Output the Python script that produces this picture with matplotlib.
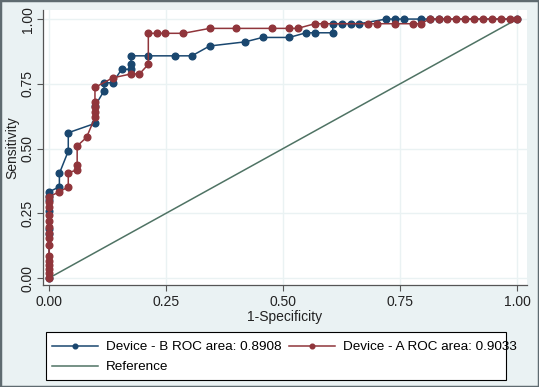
import matplotlib
matplotlib.use("Agg")
import matplotlib.pyplot as plt
from matplotlib.patches import Rectangle

# Device B ROC points (1-specificity, sensitivity)
b_fpr = [0, 0, 0, 0, 0, 0, 0, 0.022, 0.022, 0.041, 0.041, 0.098, 0.098,
         0.1175, 0.1175, 0.136, 0.155, 0.175, 0.175, 0.175, 0.212, 0.269, 0.305,
         0.343, 0.419, 0.456, 0.513, 0.549, 0.568, 0.606, 0.606, 0.625, 0.645,
         0.663, 0.72, 0.739, 0.759, 0.794, 0.813, 0.832, 1.0]
b_tpr = [0, 0.17, 0.19, 0.26, 0.30, 0.315, 0.333, 0.352, 0.404, 0.49, 0.561, 0.597, 0.664,
         0.723, 0.754, 0.754, 0.806, 0.806, 0.826, 0.858, 0.858, 0.858, 0.858,
         0.896, 0.912, 0.929, 0.929, 0.947, 0.947, 0.947, 0.982, 0.982, 0.982,
         0.982, 1.0, 1.0, 1.0, 1.0, 1.0, 1.0, 1.0]

# Device A ROC points
a_fpr = [0, 0, 0, 0, 0, 0, 0, 0, 0, 0, 0, 0, 0, 0, 0,
         0.022, 0.041, 0.041, 0.06, 0.06, 0.06, 0.08, 0.098, 0.098, 0.098, 0.098, 0.098,
         0.136, 0.175, 0.193, 0.212, 0.212, 0.230, 0.248, 0.287, 0.343, 0.40, 0.476,
         0.513, 0.531, 0.568, 0.588, 0.682, 0.70, 0.739, 0.777, 0.794,
         0.813, 0.832, 0.851, 0.870, 0.889, 0.908, 0.927, 0.946, 0.965, 0.984, 1.0]
a_tpr = [0, 0.02, 0.035, 0.05, 0.065, 0.085, 0.127, 0.153, 0.175, 0.198, 0.22, 0.243, 0.275, 0.295, 0.314,
         0.333, 0.352, 0.407, 0.417, 0.436, 0.51, 0.543, 0.62, 0.64, 0.66, 0.68, 0.736,
         0.773, 0.788, 0.788, 0.825, 0.945, 0.945, 0.945, 0.945, 0.964, 0.964, 0.964,
         0.964, 0.964, 0.982, 0.982, 0.982, 0.982, 0.982, 0.982, 0.982,
         1.0, 1.0, 1.0, 1.0, 1.0, 1.0, 1.0, 1.0, 1.0, 1.0, 1.0]

ref_x = [0, 1]
ref_y = [0, 1]

labels = ["Device - B ROC area: 0.8908", "Device - A ROC area: 0.9033", "Reference"]
ticks = [0, 0.25, 0.5, 0.75, 1.0]

plt.rcParams['font.family'] = ['Liberation Sans', 'DejaVu Sans']

bg = "#EAF2F3"
navy = "#1A476F"
maroon = "#90353B"
green = "#4F7364"
W, H = 539, 387

fig = plt.figure(figsize=(W / 100, H / 100), dpi=100, facecolor=bg)
ax = fig.add_axes([43 / W, 1 - 285 / H, 484 / W, 275 / H])
ax.set_facecolor("white")

l_ref, = ax.plot(ref_x, ref_y, color=green, lw=1.1, zorder=2)
l_b, = ax.plot(b_fpr, b_tpr, color=navy, lw=1.1, marker="o", ms=4.8, zorder=3)
l_a, = ax.plot(a_fpr, a_tpr, color=maroon, lw=1.1, marker="o", ms=4.8, zorder=4)

ax.set_xlim(-0.013, 1.021)
ax.set_ylim(-0.027, 1.035)
ax.set_xticks(ticks)
ax.set_yticks(ticks)
ax.set_xticklabels(["%.2f" % t for t in ticks], fontsize=10)
ax.set_yticklabels(["%.2f" % t for t in ticks], fontsize=10, rotation=90, va="center")
ax.grid(True, color=bg, lw=1.0, zorder=0)
ax.set_axisbelow(True)
for s in ["top", "right"]:
    ax.spines[s].set_visible(False)
for s in ["left", "bottom"]:
    ax.spines[s].set_color("#555555")
    ax.spines[s].set_linewidth(0.9)
ax.tick_params(length=4, width=0.8, color="#555555", pad=2, labelcolor="#222222")
ax.tick_params(axis="x", pad=3.5)
ax.set_xlabel("1-Specificity", fontsize=10, labelpad=0.5, color="#222222")
ax.set_ylabel("Sensitivity", fontsize=10, labelpad=1, color="#222222")

# legend text without its own frame; box drawn separately (text overflows in the original)
leg = fig.legend([l_b, l_ref, l_a], [labels[0], labels[2], labels[1]], ncol=2,
                 loc="upper left", bbox_to_anchor=(48 / W, 1 - 337 / H),
                 fontsize=9.7, frameon=False,
                 handlelength=3.4, handletextpad=0.6, columnspacing=0.55,
                 borderpad=0.3, labelspacing=0.55, borderaxespad=0, markerscale=0.7)
fig.patches.append(Rectangle((46 / W, 1 - 380 / H), 460 / W, 48 / H, transform=fig.transFigure,
                             facecolor="white", edgecolor="black", lw=0.8, zorder=0))

fig.patches.append(Rectangle((0, 0), 1, 1, transform=fig.transFigure, fill=False,
                             edgecolor="#5F6B70", lw=2.5))

fig.savefig("out.png", dpi=100, facecolor=bg)
